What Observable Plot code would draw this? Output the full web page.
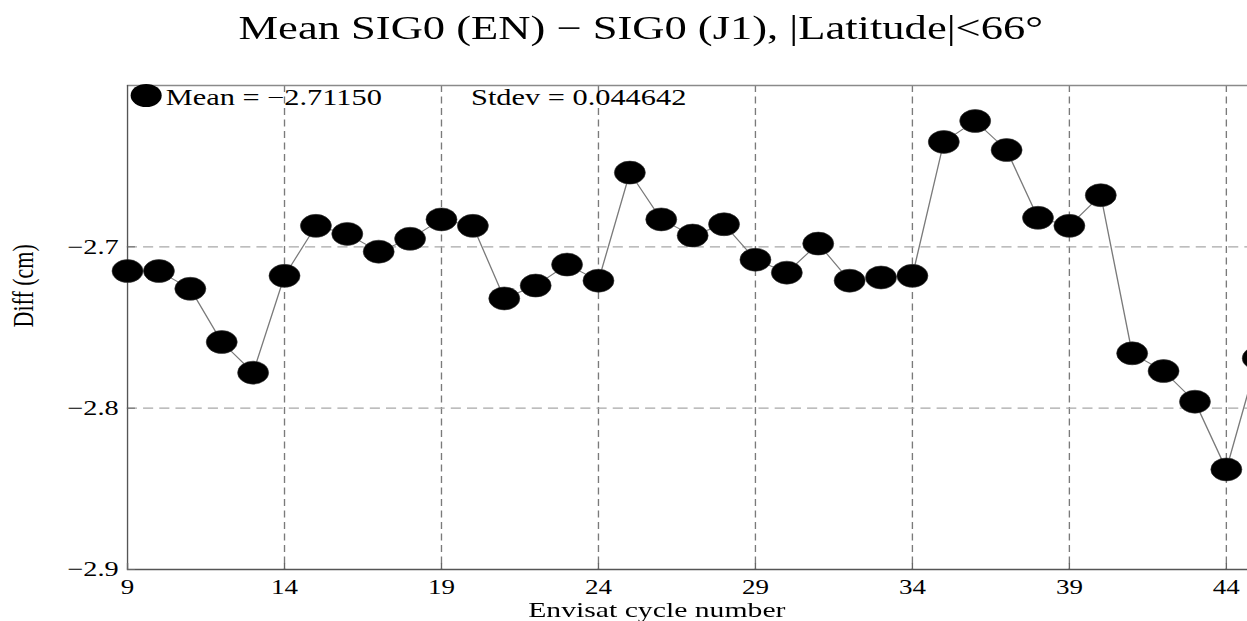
<!DOCTYPE html>
<html>
<head>
<meta charset="utf-8">
<script src="https://cdn.jsdelivr.net/npm/d3@7"></script>
<script src="https://cdn.jsdelivr.net/npm/@observablehq/plot@0.6"></script>
<style>
  html, body { margin: 0; padding: 0; background: #fff; overflow: hidden; }
  #fig { width: 924px; transform: scaleX(1.3496); transform-origin: 0 0; font-family: "Liberation Serif", "Times New Roman", serif; color: #000; }
  #title { height: 60px; position: relative; }
  #title span { position: absolute; left: 474.8px; top: 12px; transform: translateX(-50%); white-space: nowrap; font-size: 33px; line-height: 33px; }
  #xlabel { height: 23px; position: relative; }
  #xlabel span { position: absolute; left: 486.7px; top: 3px; transform: translateX(-50%); white-space: nowrap; font-size: 22px; line-height: 18px; }
  #plot svg { display: block; }
</style>
</head>
<body>
<div id="fig">
  <div id="title"><span></span></div>
  <div id="plot"></div>
  <div id="xlabel"><span></span></div>
</div>
<script>
// ---- data ----
const titleText = "Mean SIG0 (EN) \u2212 SIG0 (J1), |Latitude|<66\u00b0";
const xLabelText = "Envisat cycle number";
const yLabelText = "Diff (cm)";
const meanText = "Mean = \u22122.71150";
const stdevText = "Stdev = 0.044642";

const cycles = [9, 10, 11, 12, 13, 14, 15, 16, 17, 18, 19, 20, 21, 22, 23, 24, 25, 26, 27,
                28, 29, 30, 31, 32, 33, 34, 35, 36, 37, 38, 39, 40, 41, 42, 43, 44, 45];
const diffs = [-2.715, -2.715, -2.726, -2.759, -2.778, -2.718, -2.687, -2.692, -2.703, -2.695,
               -2.683, -2.687, -2.732, -2.724, -2.711, -2.721, -2.654, -2.683, -2.693, -2.686,
               -2.708, -2.716, -2.698, -2.721, -2.719, -2.718, -2.635, -2.622, -2.640, -2.682,
               -2.687, -2.668, -2.766, -2.777, -2.796, -2.838, -2.769];

const xDomain = [9, 44.68];
const yDomain = [-2.9, -2.6];
const xTicks = [9, 14, 19, 24, 29, 34, 39, 44];
const xTickLabels = ["9", "14", "19", "24", "29", "34", "39", "44"];
const yTicks = [-2.9, -2.8, -2.7];
const yTickLabels = ["\u22122.9", "\u22122.8", "\u22122.7"];
const xGrid = [14, 19, 24, 29, 34, 39, 44];
const yGrid = [-2.8, -2.7];

// ---- build ----
document.querySelector("#title span").textContent = titleText;
document.querySelector("#xlabel span").textContent = xLabelText;

const rows = cycles.map((c, i) => ({cycle: c, diff: diffs[i]}));
const xLab = new Map(xTicks.map((v, i) => [v, xTickLabels[i]]));
const yLab = new Map(yTicks.map((v, i) => [v, yTickLabels[i]]));

const font = "Liberation Serif";
const chart = Plot.plot({
  width: 924,
  height: 538,
  marginLeft: 94,
  marginRight: 0,
  marginTop: 25,
  marginBottom: 29,
  style: {fontFamily: font, background: "#fff", color: "#000", overflow: "hidden"},
  x: {domain: xDomain, label: null},
  y: {domain: yDomain, label: null},
  marks: [
    Plot.gridX(xGrid, {stroke: "#7a7a7a", strokeOpacity: 1, strokeWidth: 1, strokeDasharray: "7,4.5"}),
    Plot.gridY(yGrid, {stroke: "#a8a8a8", strokeOpacity: 1, strokeWidth: 1.3, strokeDasharray: "7.5,4.5"}),
    Plot.ruleY([yDomain[1]], {stroke: "#8a8a8a", strokeWidth: 1.3}),
    Plot.ruleY([yDomain[0]], {stroke: "#555", strokeWidth: 1.3}),
    Plot.ruleX([xDomain[0]], {stroke: "#555", strokeWidth: 1}),
    Plot.axisX(xTicks, {tickSize: -6, tickPadding: 16, stroke: "#666", fill: "#000", fontSize: 20,
      tickFormat: d => xLab.get(d), label: null}),
    Plot.axisY(yTicks, {tickSize: -6, tickPadding: 12.5, stroke: "#666", fill: "#000", fontSize: 21,
      tickFormat: d => yLab.get(d), label: null}),
    Plot.text([yLabelText], {frameAnchor: "left", rotate: -90, dx: -85.5, lineAnchor: "top",
      fontSize: 22, fill: "#000"}),
    Plot.line(rows, {x: "cycle", y: "diff", stroke: "#7a7a7a", strokeWidth: 1}),
    Plot.dot(rows, {x: "cycle", y: "diff", r: 11.5, fill: "#000", stroke: "#333", strokeWidth: 0.5}),
    Plot.dot([meanText], {frameAnchor: "top-left", dx: 13.8, dy: 10, r: 11.5, fill: "#000"}),
    Plot.text([meanText], {frameAnchor: "top-left", dx: 28.3, dy: 19.5, lineAnchor: "bottom",
      textAnchor: "start", fontSize: 22.5, fill: "#000"}),
    Plot.text([stdevText], {frameAnchor: "top-left", dx: 254.5, dy: 19.5, lineAnchor: "bottom",
      textAnchor: "start", fontSize: 22.5, fill: "#000"})
  ]
});
document.getElementById("plot").appendChild(chart);
</script>
</body>
</html>
